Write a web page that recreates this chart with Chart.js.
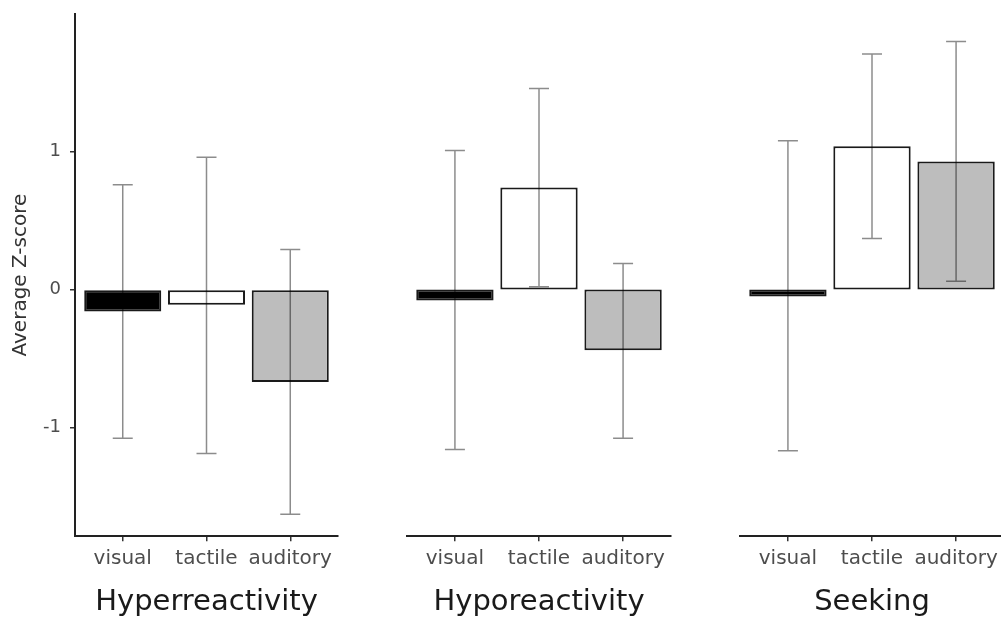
<!DOCTYPE html>
<html>
<head>
<meta charset="utf-8">
<script src="https://cdn.jsdelivr.net/npm/chart.js@4.4.1/dist/chart.umd.min.js"></script>
<style>
  body { margin: 0; background: #fff; }
  #quadro { position: relative; width: 1001px; height: 620px; overflow: hidden; }
  canvas { position: absolute; top: 0; }
</style>
</head>
<body>
<div id="quadro">
  <canvas id="graficoHyper" width="348" height="620" style="left:0px"></canvas>
  <canvas id="graficoHypo" width="284" height="620" style="left:397px"></canvas>
  <canvas id="graficoSeek" width="284" height="620" style="left:730px"></canvas>
</div>
<script>
const categorias = ['visual', 'tactile', 'auditory'];
const yTicks = [-1, 0, 1];

// medias e limites das barras de erro
const hyperMedia = [-0.16, -0.11, -0.67];
const hyperBaixo = [-1.08, -1.19, -1.63];
const hyperAlto = [0.76, 0.96, 0.29];

const hypoMedia = [-0.08, 0.74, -0.44];
const hypoBaixo = [-1.16, 0.02, -1.08];
const hypoAlto = [1.01, 1.46, 0.19];

const seekMedia = [-0.05, 1.04, 0.93];
const seekBaixo = [-1.17, 0.37, 0.06];
const seekAlto = [1.08, 1.71, 1.80];

Chart.defaults.font.family = "'DejaVu Sans', sans-serif";

function barrasDeErro(baixo, alto) {
    return {
        id: 'barrasDeErro',
        afterDatasetsDraw(chart) {
            const ctx = chart.ctx;
            const x = chart.scales.x;
            const y = chart.scales.y;
            ctx.save();
            ctx.strokeStyle = 'rgba(0,0,0,0.45)';
            ctx.lineWidth = 1.5;
            ctx.beginPath();
            baixo.forEach((v, i) => {
                const px = x.getPixelForValue(i);
                const y1 = y.getPixelForValue(v);
                const y2 = y.getPixelForValue(alto[i]);
                ctx.moveTo(px, y1);
                ctx.lineTo(px, y2);
                ctx.moveTo(px - 10, y1);
                ctx.lineTo(px + 10, y1);
                ctx.moveTo(px - 10, y2);
                ctx.lineTo(px + 10, y2);
            });
            ctx.stroke();
            ctx.restore();
        }
    };
}

function ajustaEixoY(s, mostraY) {
    s.width = mostraY ? 75 : 0;
    s.paddingTop = 0;
    s.paddingBottom = 0;
}

function criaPainel(id, titulo, medias, baixo, alto, mostraY) {
    return new Chart(document.getElementById(id), {
        type: 'bar',
        data: {
            datasets: [{
                data: medias.map((v, i) => ({ x: i, y: v })),
                backgroundColor: ['#000000', '#ffffff', '#bdbdbd'],
                borderColor: '#1a1a1a',
                borderWidth: 2,
                borderSkipped: false,
                barPercentage: 0.92,
                categoryPercentage: 1
            }]
        },
        options: {
            responsive: false,
            animation: false,
            layout: { padding: { top: 14, bottom: 0, left: mostraY ? 0 : 10, right: 10 } },
            plugins: {
                legend: { display: false },
                tooltip: { enabled: false },
                title: {
                    display: true,
                    text: titulo,
                    position: 'bottom',
                    fullSize: false,
                    color: '#1a1a1a',
                    font: { size: 29, weight: 'normal' },
                    padding: { top: 8, bottom: 0 }
                }
            },
            scales: {
                x: {
                    type: 'linear',
                    min: -0.57,
                    max: 2.57,
                    offset: false,
                    afterBuildTicks: s => { s.ticks = categorias.map((c, i) => ({ value: i })); },
                    ticks: {
                        callback: v => categorias[v],
                        color: '#4d4d4d',
                        font: { size: 20 },
                        padding: 6,
                        maxRotation: 0,
                        autoSkip: false
                    },
                    grid: { offset: false, drawOnChartArea: false, drawTicks: true, tickLength: 5, color: '#333', lineWidth: 1.5 },
                    border: { display: true, color: '#222', width: 2 }
                },
                y: {
                    display: mostraY,
                    min: -1.79,
                    max: 2.0,
                    afterBuildTicks: s => { s.ticks = yTicks.map(v => ({ value: v })); },
                    afterFit: s => ajustaEixoY(s, mostraY),
                    ticks: { color: '#4d4d4d', font: { size: 18 }, padding: 9 },
                    grid: { drawOnChartArea: false, drawTicks: true, tickLength: 5, color: '#333', lineWidth: 1.5 },
                    border: { display: true, color: '#222', width: 2 },
                    title: {
                        display: true,
                        text: 'Average Z-score',
                        color: '#333',
                        font: { size: 20 },
                        padding: { top: 9, bottom: 0 }
                    }
                }
            }
        },
        plugins: [barrasDeErro(baixo, alto)]
    });
}

criaPainel('graficoHyper', 'Hyperreactivity', hyperMedia, hyperBaixo, hyperAlto, true);
criaPainel('graficoHypo', 'Hyporeactivity', hypoMedia, hypoBaixo, hypoAlto, false);
criaPainel('graficoSeek', 'Seeking', seekMedia, seekBaixo, seekAlto, false);
</script>
</body>
</html>
